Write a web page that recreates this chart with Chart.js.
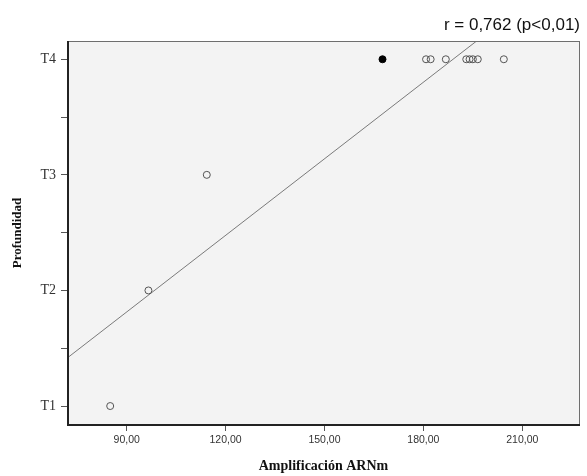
<!DOCTYPE html>
<html>
<head>
<meta charset="utf-8">
<script src="https://cdn.jsdelivr.net/npm/chart.js@4/dist/chart.umd.min.js"></script>
<style>
  html, body { margin: 0; padding: 0; background: #ffffff; }
  #wrap { width: 587px; height: 476px; }
</style>
</head>
<body>
<div id="wrap"><canvas id="c" width="587" height="476"></canvas></div>
<script>
// ---- data ----
const amplificacion = [85.0, 96.6, 114.3, 180.8, 182.2, 186.8, 193.0, 194.0, 195.0, 196.5, 204.4];
const profundidad   = [1, 2, 3, 4, 4, 4, 4, 4, 4, 4, 4];
const amplificacionDestacada = [167.6];
const profundidadDestacada   = [4];
const yTickValues = [1, 1.5, 2, 2.5, 3, 3.5, 4];
const yTickLabels = {1: 'T1', 2: 'T2', 3: 'T3', 4: 'T4'};
const xTickValues = [90, 120, 150, 180, 210];
const xMin = 71.9, xMax = 227.5, yMin = 0.836, yMax = 4.158;
const titleText = 'r = 0,762 (p<0,01)';

// least-squares fit of all points
const allX = amplificacion.concat(amplificacionDestacada);
const allY = profundidad.concat(profundidadDestacada);
const n = allX.length;
const mx = allX.reduce((a, b) => a + b, 0) / n;
const my = allY.reduce((a, b) => a + b, 0) / n;
let sxy = 0, sxx = 0;
for (let i = 0; i < n; i++) { sxy += (allX[i] - mx) * (allY[i] - my); sxx += (allX[i] - mx) ** 2; }
const slope = sxy / sxx, intercept = my - slope * mx;
const fitLine = [xMin, xMax].map(x => ({x: x, y: intercept + slope * x}));

const bgPlugin = {
  id: 'plotBg',
  beforeDraw(chart) {
    const {ctx, chartArea: a} = chart;
    ctx.save();
    ctx.fillStyle = '#f3f3f3';
    ctx.fillRect(a.left, a.top, a.right - a.left, a.bottom - a.top);
    ctx.restore();
  },
  afterDraw(chart) {
    const {ctx, chartArea: a} = chart;
    ctx.save();
    ctx.strokeStyle = '#6e6e6e';
    ctx.lineWidth = 1;
    ctx.strokeRect(a.left + 0.5, a.top + 0.5, a.right - a.left - 1, a.bottom - a.top - 1);
    ctx.strokeStyle = '#222';
    ctx.lineWidth = 2;
    ctx.beginPath();
    ctx.moveTo(a.left + 1, a.top);
    ctx.lineTo(a.left + 1, a.bottom);
    ctx.lineTo(a.right, a.bottom);
    ctx.stroke();
    ctx.restore();
  }
};

new Chart(document.getElementById('c'), {
  type: 'scatter',
  data: {
    datasets: [
      {
        type: 'line',
        data: fitLine,
        borderColor: '#7a7a7a',
        borderWidth: 1,
        pointRadius: 0,
        fill: false,
        clip: 0,
        order: 2
      },
      {
        data: amplificacion.map((x, i) => ({x: x, y: profundidad[i]})),
        pointRadius: 3.5,
        pointBackgroundColor: 'rgba(0,0,0,0)',
        pointBorderColor: '#555',
        pointBorderWidth: 1,
        order: 1
      },
      {
        data: amplificacionDestacada.map((x, i) => ({x: x, y: profundidadDestacada[i]})),
        pointRadius: 3.5,
        pointBackgroundColor: '#000',
        pointBorderColor: '#000',
        pointBorderWidth: 1,
        order: 1
      }
    ]
  },
  options: {
    responsive: false,
    animation: false,
    layout: { padding: { left: 0, right: 7, top: 0, bottom: 0 } },
    plugins: {
      legend: { display: false },
      tooltip: { enabled: false },
      title: {
        display: true,
        text: titleText,
        align: 'end',
        color: '#111',
        font: { family: '"Liberation Sans", Arial, sans-serif', size: 17, weight: 'normal' },
        padding: { top: 14.8, bottom: 5.8 }
      }
    },
    scales: {
      x: {
        type: 'linear',
        min: xMin,
        max: xMax,
        afterBuildTicks(scale) { scale.ticks = xTickValues.map(v => ({value: v})); },
        afterFit(scale) { scale.height = 51; },
        ticks: {
          color: '#333',
          font: { family: '"Liberation Sans", Arial, sans-serif', size: 10.5 },
          padding: 3,
          maxRotation: 0,
          callback: v => v.toFixed(2).replace('.', ',')
        },
        grid: { drawOnChartArea: false, drawTicks: true, tickLength: 6, color: '#555' },
        border: { display: false },
        title: {
          display: true,
          text: 'Amplificación ARNm',
          color: '#111',
          font: { family: '"Liberation Serif", "Times New Roman", serif', size: 14, weight: 'bold' },
          padding: { top: 0, bottom: 1.5 }
        }
      },
      y: {
        type: 'linear',
        min: yMin,
        max: yMax,
        afterBuildTicks(scale) { scale.ticks = yTickValues.map(v => ({value: v})); },
        afterFit(scale) { scale.width = 67; },
        ticks: {
          color: '#333',
          font: { family: '"Liberation Serif", "Times New Roman", serif', size: 14 },
          padding: 5,
          callback: v => yTickLabels[v] || ''
        },
        grid: { drawOnChartArea: false, drawTicks: true, tickLength: 6, color: '#555' },
        border: { display: false },
        title: {
          display: true,
          text: 'Profundidad',
          color: '#111',
          font: { family: '"Liberation Serif", "Times New Roman", serif', size: 13, weight: 'bold' },
          padding: { top: 10, bottom: 0 }
        }
      }
    }
  },
  plugins: [bgPlugin]
});
</script>
</body>
</html>
